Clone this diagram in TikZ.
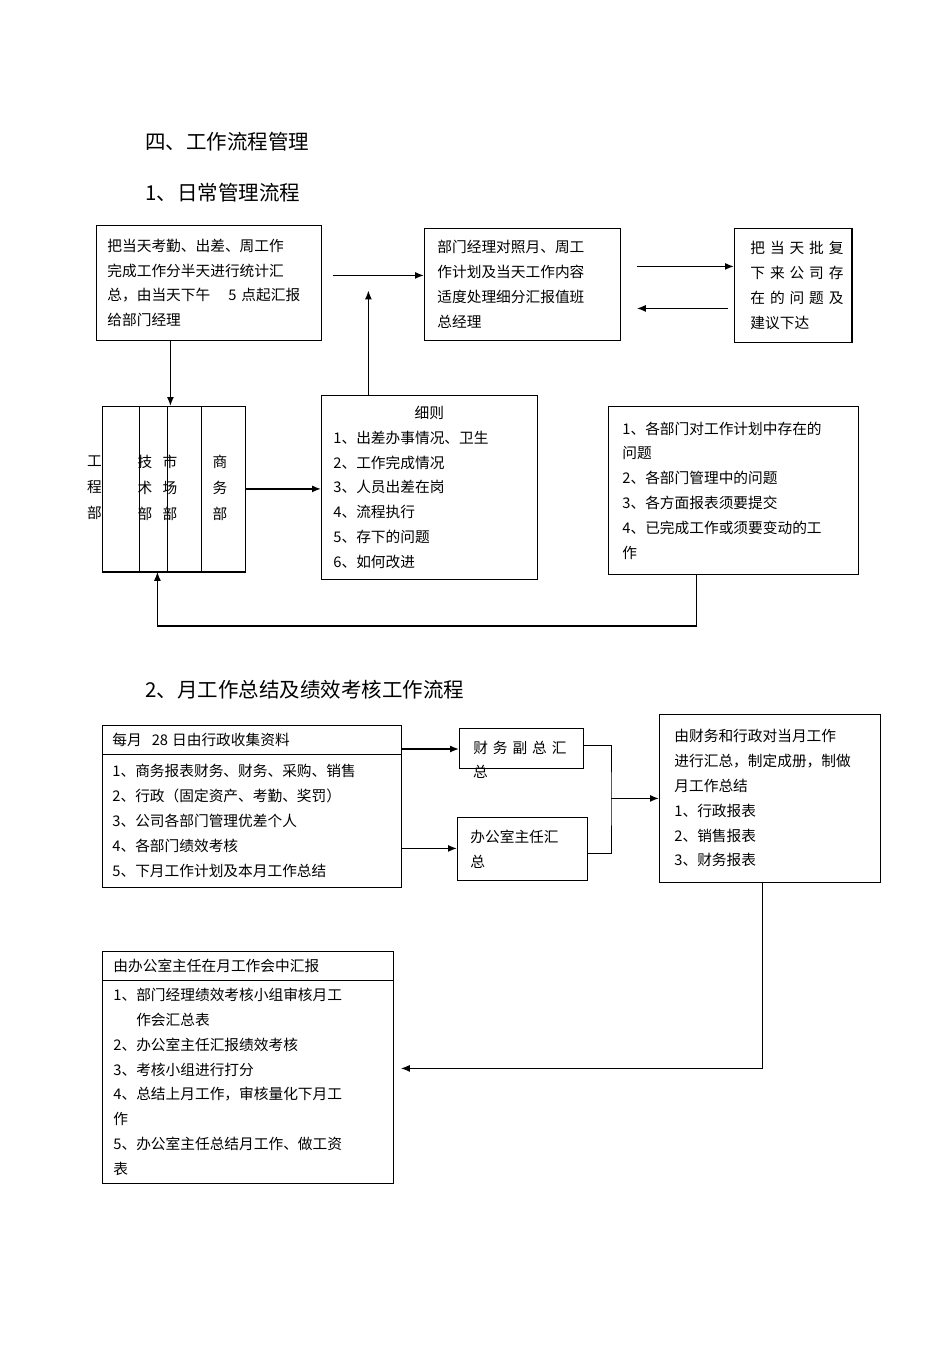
\documentclass[tikz,border=0pt]{standalone}
\usepackage{fontspec}
\setmainfont{Noto Sans CJK SC}
\usetikzlibrary{arrows.meta}
\newcommand{\bodyfont}{\fontsize{14.7}{24.8}\selectfont}
\newcommand{\headfont}{\fontsize{20.5}{24}\selectfont}

\begin{document}
\begin{tikzpicture}[x=1pt, y=-1pt,
  box/.style = {draw, line width=0.8pt, anchor=north west, align=left, inner ysep=0pt, font=\bodyfont},
  title/.style = {anchor=west, inner sep=0pt, font=\headfont},
  lbl/.style = {align=center, inner sep=0pt, font=\fontsize{14.7}{26}\selectfont},
  arr/.style = {line width=1.4pt, -{Latex[length=9pt,width=7pt]}},
  conn/.style = {line width=0.9pt}]
  \useasboundingbox (0,0) rectangle (950,1345);

  \node[title] (t0) at (145,142) {四、工作流程管理};
  \node[title] (t1) at (145,193) {1、日常管理流程};
  \node[title] (t2) at (145,690) {2、月工作总结及绩效考核工作流程};

  % daily flow
  \node[box, inner xsep=11pt, text width=203pt, minimum height=115pt] (report) at (96,225) {把当天考勤、出差、周工作\\完成工作分半天进行统计汇\\总，由当天下午\kern18pt 5\kern5pt 点起汇报\\给部门经理};
  \node[box, inner xsep=13pt, text width=170pt, minimum height=112pt] (manager) at (424,228) {部门经理对照月、周工\\作计划及当天工作内容\\适度处理细分汇报值班\\总经理};
  \node[box, inner xsep=16pt, text width=85pt, minimum height=114pt] (reply) at (734,228) {把~当~天~批~复\\下~来~公~司~存\\在~的~问~题~及\\建议下达};
  \node[box, minimum width=143pt, minimum height=165pt, inner sep=0pt] (dept) at (102,406) {};
  \node[box, inner xsep=12pt, text width=192pt, minimum height=184pt] (rules) at (321,395) {\hbox to \hsize{\hfil 细则\hfil}\\1、出差办事情况、卫生\\2、工作完成情况\\3、人员出差在岗\\4、流程执行\\5、存下的问题\\6、如何改进};
  \node[box, inner xsep=14pt, text width=222pt, minimum height=168pt] (issues) at (608,406) {1、各部门对工作计划中存在的\\问题\\2、各部门管理中的问题\\3、各方面报表须要提交\\4、已完成工作或须要变动的工\\作};

  \draw[conn] ([xshift=37pt]dept.north west) -- ([xshift=37pt]dept.south west);
  \draw[conn] ([xshift=65pt]dept.north west) -- ([xshift=65pt]dept.south west);
  \draw[conn] ([xshift=99pt]dept.north west) -- ([xshift=99pt]dept.south west);
  \draw[line width=1.5pt] (dept.south west) -- (dept.south east);
  \draw[line width=1.5pt] (reply.north east) -- (reply.south east);
  \node[lbl] (gcb) at (94.5,488) {工\\程\\部};
  \node[lbl] (jsb) at (145,488) {技\\术\\部};
  \node[lbl] (scb) at (170,488) {市\\场\\部};
  \node[lbl] (swb) at (220,488) {商\\务\\部};

  \coordinate (r1) at ([xshift=11pt,yshift=7.5pt]report.east);
  \draw[arr] (r1) -- (r1 -| manager.west);
  \coordinate (r2) at ([xshift=-38.5pt]report.south);
  \draw[arr] (r2) -- (r2 |- dept.north);
  \coordinate (m1) at ([xshift=16pt,yshift=18pt]manager.east);
  \draw[arr] (m1) -- (m1 -| reply.west);
  \coordinate (m2) at ([xshift=16pt,yshift=-24pt]manager.east);
  \path (m2 -| reply.west) ++(-6,0) coordinate (c2);
  \draw[arr] (c2) -- (m2);
  \coordinate (u1) at ([xshift=-61pt]rules.north);
  \path (u1 |- r1) ++(0,15) coordinate (u2);
  \draw[arr] (u1) -- (u2);
  \draw[arr] (dept.east) -- (dept.east -| rules.west);
  \coordinate (i1) at ([xshift=-37pt]issues.south);
  \coordinate (d1) at ([xshift=-16.5pt]dept.south);
  \path (i1) ++(0,51) coordinate (fb);
  \draw[arr] (i1) -- (fb) -| (d1);

  % monthly flow
  \node[box, inner xsep=10pt, text width=279pt, minimum height=29pt] (collecthead) at (102,725) {每月\kern10pt 28\kern4pt 日由行政收集资料};
  \node[box, inner xsep=10pt, text width=279pt, minimum height=133pt] (collect) at (102,754) {1、商务报表财务、财务、采购、销售\\2、行政（固定资产、考勤、奖罚）\\3、公司各部门管理优差个人\\4、各部门绩效考核\\5、下月工作计划及本月工作总结};
  \node[box, inner xsep=14pt, text width=96pt, minimum height=40pt] (finance) at (459,728) {财~务~副~总~汇};
  \node[anchor=west, inner sep=0pt, font=\bodyfont] (financeb) at (473,772) {总};
  \node[box, inner xsep=13pt, text width=104pt, minimum height=63pt] (office) at (457,817) {办公室主任汇\\总};
  \node[box, inner xsep=15pt, text width=191pt, minimum height=168pt] (summary) at (659,714) {由财务和行政对当月工作\\进行汇总，制定成册，制做\\月工作总结\\1、行政报表\\2、销售报表\\3、财务报表};
  \node[box, inner xsep=11pt, text width=269pt, minimum height=29pt] (meethead) at (102,951) {由办公室主任在月工作会中汇报};
  \node[box, inner xsep=11pt, text width=269pt, minimum height=203pt] (meet) at (102,980) {1、部门经理绩效考核小组审核月工\\\phantom{1、}作会汇总表\\2、办公室主任汇报绩效考核\\3、考核小组进行打分\\4、总结上月工作，审核量化下月工\\作\\5、办公室主任总结月工作、做工资\\表};

  \coordinate (e1) at ([yshift=5pt]collect.north east);
  \draw[arr] (e1) -- (e1 -| finance.west);
  \coordinate (e2) at ([yshift=-27.5pt]collect.east);
  \draw[arr] (e2) -- (e2 -| office.west);
  \path (summary.west) ++(-48,0) coordinate (j);
  \draw[conn] ([yshift=3pt]finance.east) -| (j) |- ([yshift=-4.5pt]office.east);
  \draw[arr] (j) -- (summary.west);
  \coordinate (s1) at ([xshift=-7.5pt]summary.south);
  \coordinate (m3) at ([xshift=7pt,yshift=13.5pt]meet.east);
  \draw[arr] (s1) |- (m3);
\end{tikzpicture}
\end{document}
